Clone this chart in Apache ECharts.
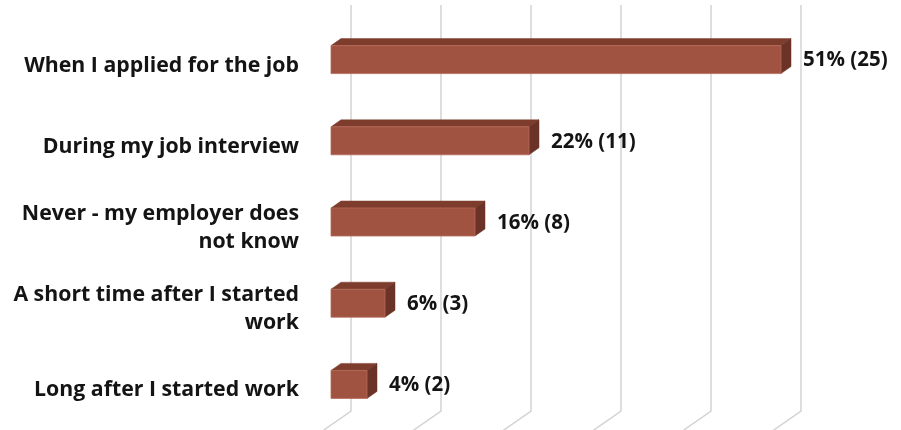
<!DOCTYPE html>
<html>
<head>
<meta charset="utf-8">
<script src="https://cdn.jsdelivr.net/npm/echarts@6/dist/echarts.min.js"></script>
<style>
  html, body { margin: 0; padding: 0; background: #fff; }
  #chart { width: 901px; height: 430px; }
</style>
</head>
<body>
<div id="chart"></div>
<script>
// When did you tell your employer?
const categories = [
  'When I applied for the job',
  'During my job interview',
  'Never - my employer does\nnot know',
  'A short time after I started\nwork',
  'Long after I started work'
];
const counts = [25, 11, 8, 3, 2];
const percents = [51, 22, 16, 6, 4];
const gridTicks = [0, 5, 10, 15, 20, 25];

// 3D look: wall depth for gridlines, bar depth for the boxes
const WALL_DX = 20, WALL_DY = -14;
const BAR_DX = 10, BAR_DY = -7;
const BAR_H = 28;

const FONT = '"Open Sans"';
const TEXT_COLOR = '#141414';

const chart = echarts.init(document.getElementById('chart'), null, { renderer: 'canvas' });

function renderGridline(params, api) {
  const cs = params.coordSys;
  const x = api.coord([api.value(0), 0])[0] + WALL_DX;
  const yTop = cs.y + WALL_DY;
  const yBot = cs.y + cs.height + WALL_DY;
  const slantDy = 21;
  const slantDx = -slantDy * (WALL_DX / -WALL_DY);
  return {
    type: 'polyline',
    shape: { points: [[x, yTop], [x, yBot], [x + slantDx, yBot + slantDy]] },
    style: { stroke: '#d4d4d4', lineWidth: 1.5, fill: null }
  };
}

function renderBar(params, api) {
  const idx = api.value(1);
  const val = api.value(0);
  const p0 = api.coord([0, idx]);
  const p1 = api.coord([val, idx]);
  const x0 = p0[0], x1 = p1[0];
  const yT = p0[1] - BAR_H / 2, yB = p0[1] + BAR_H / 2;
  const label = percents[params.dataIndex] + '% (' + counts[params.dataIndex] + ')';
  return {
    type: 'group',
    children: [
      {
        type: 'polygon',
        shape: { points: [[x0, yT], [x0 + BAR_DX, yT + BAR_DY], [x1 + BAR_DX, yT + BAR_DY], [x1, yT]] },
        style: { fill: '#7d3c2c', stroke: '#7d3c2c', lineWidth: 0.5 }
      },
      {
        type: 'polygon',
        shape: { points: [[x1, yT], [x1 + BAR_DX, yT + BAR_DY], [x1 + BAR_DX, yB + BAR_DY], [x1, yB]] },
        style: { fill: '#6b3327', stroke: '#6b3327', lineWidth: 0.5 }
      },
      {
        type: 'rect',
        shape: { x: x0, y: yT, width: x1 - x0, height: BAR_H },
        style: { fill: '#a05340', stroke: '#b56a58', lineWidth: 0.8 }
      },
      {
        type: 'text',
        style: {
          x: x1 + BAR_DX + 12, y: p0[1] + 1,
          text: label,
          fill: TEXT_COLOR,
          font: 'bold 20.5px ' + FONT,
          textAlign: 'left', textVerticalAlign: 'middle'
        }
      }
    ]
  };
}

chart.setOption({
  animation: false,
  grid: { left: 331, width: 450, top: 19, height: 406 },
  xAxis: {
    type: 'value', min: 0, max: 25, interval: 5,
    axisLine: { show: false }, axisTick: { show: false },
    axisLabel: { show: false }, splitLine: { show: false }
  },
  yAxis: {
    type: 'category', data: categories, inverse: true,
    axisLine: { show: false }, axisTick: { show: false },
    axisLabel: {
      margin: 32, align: 'right',
      // a thin spacer line on top nudges the category text slightly below the bar centre
      formatter: v => '{s| }\n' + v.split('\n').map(l => '{t|' + l + '}').join('\n'),
      rich: {
        s: { fontSize: 1, lineHeight: 12 },
        t: {
          color: TEXT_COLOR, fontFamily: FONT, fontWeight: 'bold', fontSize: 21.3,
          lineHeight: 28, align: 'right'
        }
      }
    }
  },
  series: [
    {
      type: 'custom', renderItem: renderGridline, z: 1,
      data: gridTicks.map(t => [t]), silent: true
    },
    {
      type: 'custom', renderItem: renderBar, z: 2,
      data: counts.map((c, i) => [c, i]), silent: true
    }
  ]
});
</script>
</body>
</html>
